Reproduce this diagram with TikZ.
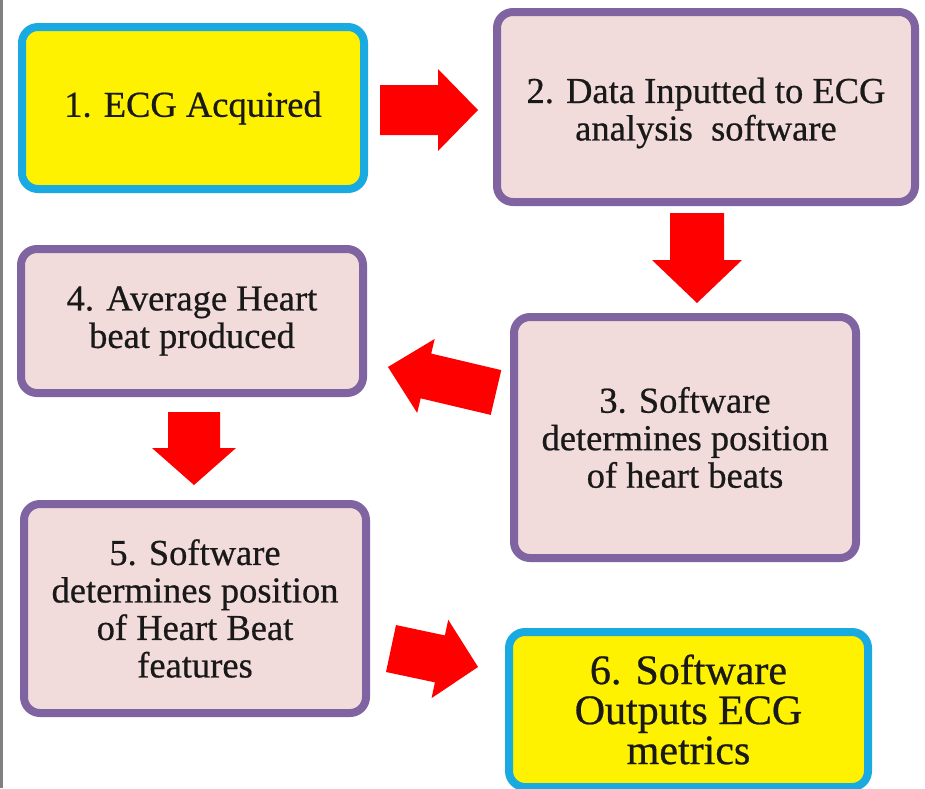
\documentclass[tikz,border=0pt]{standalone}
\usepackage{fontspec}
\setmainfont[FakeBold=0.6]{Liberation Serif}
\begin{document}
\begin{tikzpicture}[x=1pt,y=1pt,
  box/.style={draw, rounded corners=16pt, line width=8pt, align=center, inner sep=0pt, text=black!90},
  pinkbox/.style={box, draw=boxpurple, fill=boxpink},
  yellowbox/.style={box, draw=boxcyan, fill=yellow},
  txt/.style={font=\fontsize{36.5}{37.5}\selectfont},
  bigtxt/.style={font=\fontsize{42}{40}\selectfont},
  pics/barrow/.style args={#1/#2/#3/#4}{code={
    \fill[arrowred] (0,-#2) -- ({#1-#4},-#2) -- ({#1-#4},-#3) -- (#1,0)
      -- ({#1-#4},#3) -- ({#1-#4},#2) -- (0,#2) -- cycle;}}
]
\definecolor{boxpurple}{HTML}{8064A2}
\definecolor{boxpink}{HTML}{F2DCDB}
\definecolor{boxcyan}{HTML}{1AAAE2}
\definecolor{arrowred}{HTML}{FF0000}
\useasboundingbox (0,0) rectangle (925,-788);
\fill[white] (0,0) rectangle (925,-788);
\fill[black!50] (0,0) rectangle (3,-788);
\begin{scope}
\clip (0,0) rectangle (925,-788);
\node[yellowbox, txt, minimum width=342pt, minimum height=162pt] (b1) at (193,-108) {1. ECG Acquired};
\node[pinkbox, txt, minimum width=418pt, minimum height=190pt] (b2) at (706,-107) {};
\node[txt, align=center, text=black!90] (t2) at (706,-113) {2. Data Inputted to ECG\\analysis\ \ software};
\node[pinkbox, txt, minimum width=342pt, minimum height=241pt] (b3) at (685,-437.5) {3. Software\\determines position\\of heart beats};
\node[pinkbox, txt, minimum width=342pt, minimum height=144pt] (b4) at (192,-321) {4. Average Heart\\beat produced};
\node[pinkbox, txt, minimum width=342pt, minimum height=209pt] (b5) at (195,-608.5) {5. Software\\determines position\\of Heart Beat\\features};
\node[yellowbox, bigtxt, minimum width=359pt, minimum height=155pt] (b6) at (688.5,-709.5) {6. Software\\Outputs ECG\\metrics};
\end{scope}
\pic (a1) at (380,-110) {barrow=98/25/41/40};
\pic[rotate=-90] (a2) at (697,-213) {barrow=90/27/45/43};
\pic[rotate=166.7] (a3) at (496,-392.5) {barrow=111/23/38/39};
\pic[rotate=-90] (a4) at (194,-412) {barrow=73/26/42/37};
\pic[rotate=-12] (a5) at (391,-648.5) {barrow=89/24/40/39};
\end{tikzpicture}
\end{document}
